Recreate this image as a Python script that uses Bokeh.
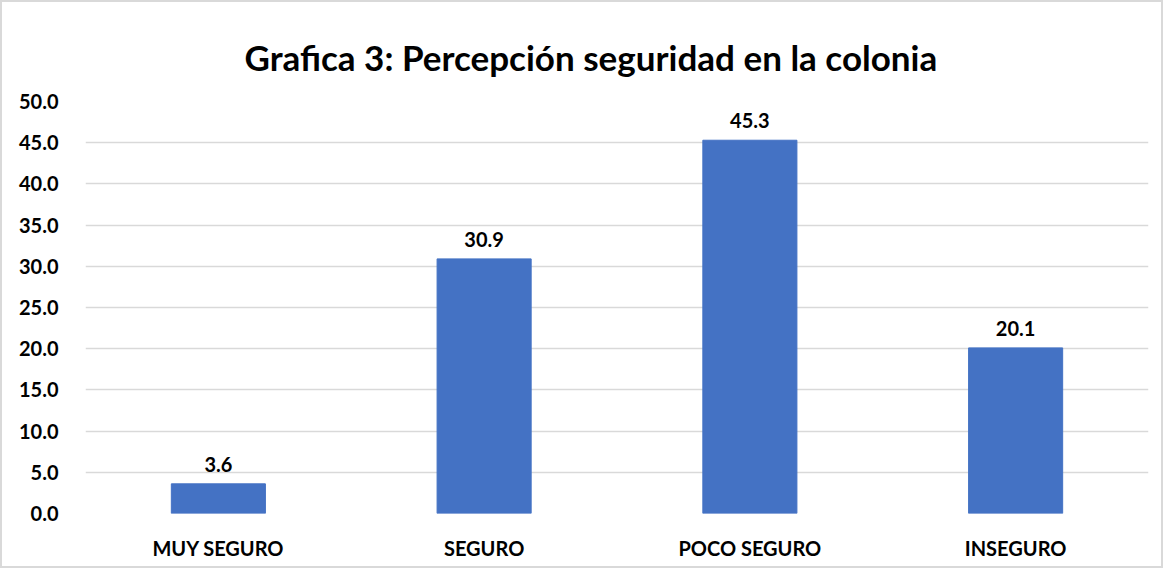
from bokeh.plotting import figure
from bokeh.models import ColumnDataSource, LabelSet, Range1d, SingleIntervalTicker, NumeralTickFormatter
from bokeh.core.properties import value
from bokeh.embed import file_html
from bokeh.resources import INLINE

title = "Grafica 3: Percepción seguridad en la colonia"
categories = ["MUY SEGURO", "SEGURO", "POCO SEGURO", "INSEGURO"]
values = [3.6, 30.9, 45.3, 20.1]
labels = [f"{v:.1f}" for v in values]

FONT = "Lato"
src = ColumnDataSource(dict(cat=categories, val=values, lab=labels))

p = figure(x_range=categories, y_range=Range1d(0, 50), width=1163, height=568,
           output_backend="svg", toolbar_location=None,
           min_border_left=83, min_border_right=17, min_border_top=99, min_border_bottom=57)

p.title.text = title
p.title.align = "left"
p.title.offset = 159
p.title.text_font = FONT
p.title.text_font_size = "35px"
p.title.text_font_style = "bold"
p.title.text_color = "#000000"
p.title.standoff = 48

p.vbar(x="cat", top="val", width=0.354, source=src, color="#4472c4")

p.add_layout(LabelSet(x="cat", y="val", text="lab", source=src, y_offset=12,
                      text_align="center", text_baseline="bottom",
                      text_font=value(FONT), text_font_style="bold", text_font_size="20px",
                      text_color="#000000"))

p.yaxis.ticker = SingleIntervalTicker(interval=5)
p.yaxis.formatter = NumeralTickFormatter(format="0.0")
for ax in (p.xaxis, p.yaxis):
    ax.axis_line_color = None
    ax.major_tick_line_color = None
    ax.minor_tick_line_color = None
    ax.major_label_text_font = FONT
    ax.major_label_text_font_style = "bold"
    ax.major_label_text_font_size = "20px"
    ax.major_label_text_color = "#000000"
p.yaxis.major_label_standoff = 21
p.xaxis.major_label_standoff = 16

p.xgrid.grid_line_color = None
p.ygrid.grid_line_color = "#d9d9d9"
p.ygrid.grid_line_width = 1.5
p.outline_line_color = None
p.styles = {"border": "2px solid #d9d9d9", "box-sizing": "border-box"}

open("out.html", "w").write(file_html(p, INLINE))
